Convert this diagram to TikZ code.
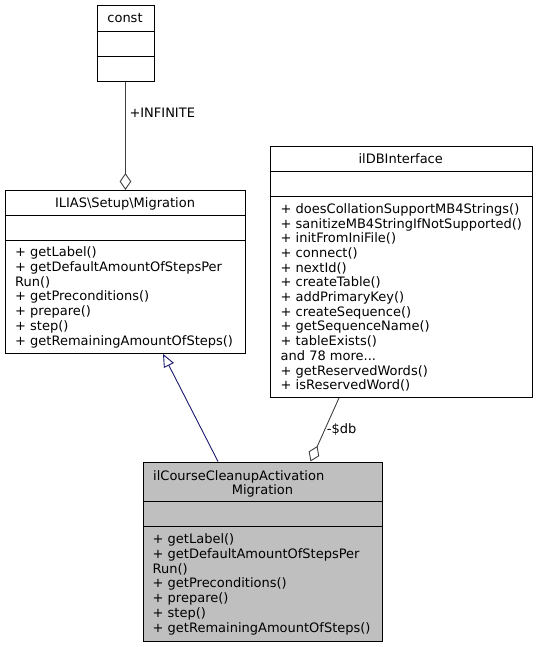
\documentclass[tikz,border=0pt]{standalone}
\usepackage{fontspec}
\setmainfont{DejaVu Sans}
\usetikzlibrary{arrows.meta}
\definecolor{edgegray}{HTML}{404040}
\definecolor{inhblue}{HTML}{191970}
\definecolor{boxgray}{HTML}{BFBFBF}
\begin{document}
\begin{tikzpicture}[x=1pt,y=-1pt,
  classbox/.style={draw=black, line width=0.9pt, inner sep=0pt, anchor=north west},
  txt/.style={inner sep=0pt, anchor=base west, font=\fontsize{13}{14.7}\selectfont},
  ctxt/.style={inner sep=0pt, anchor=base, font=\fontsize{13}{14.7}\selectfont},
  divider/.style={draw=black, line width=0.9pt},
  aggr/.style={draw=edgegray, line width=0.9pt, -{Diamond[open, length=17pt, width=11.5pt, line width=0.9pt]}},
  inherit/.style={draw=inhblue, line width=0.9pt, -{Triangle[open, length=13pt, width=11pt, line width=0.9pt]}}
]
\useasboundingbox (0,0) rectangle (538,647);

% const
\node[classbox, minimum width=57pt, minimum height=76pt] (cst) at (96.5,5.5) {};
\draw[divider] (cst.west |- 0,31.5) -- (cst.east |- 0,31.5);
\draw[divider] (cst.west |- 0,56.5) -- (cst.east |- 0,56.5);
\node[ctxt] (cstT) at (125,23) {const};

% ILIAS\Setup\Migration
\node[classbox, minimum width=240pt, minimum height=163pt] (mig) at (5,190) {};
\draw[divider] (mig.west |- 0,215) -- (mig.east |- 0,215);
\draw[divider] (mig.west |- 0,240) -- (mig.east |- 0,240);
\node[ctxt] (migT) at (125,207) {ILIAS\textbackslash Setup\textbackslash Migration};
\foreach \t [count=\i from 0] in {{+ getLabel()}, {+ getDefaultAmountOfStepsPer}, {Run()}, {+ getPreconditions()}, {+ prepare()}, {+ step()}, {+ getRemainingAmountOfSteps()}}
  \node[txt] (migL\i) at (15,256.8+\i*14.7) {\t};

% ilDBInterface
\node[classbox, minimum width=262.5pt, minimum height=250.5pt] (db) at (269.5,146.5) {};
\draw[divider] (db.west |- 0,171.5) -- (db.east |- 0,171.5);
\draw[divider] (db.west |- 0,196.5) -- (db.east |- 0,196.5);
\node[ctxt] (dbT) at (400.7,163.5) {ilDBInterface};
\foreach \t [count=\i from 0] in {{+ doesCollationSupportMB4Strings()}, {+ sanitizeMB4StringIfNotSupported()}, {+ initFromIniFile()}, {+ connect()}, {+ nextId()}, {+ createTable()}, {+ addPrimaryKey()}, {+ createSequence()}, {+ getSequenceName()}, {+ tableExists()}, {and 78 more\char"2E\char"2E\char"2E}, {+ getReservedWords()}, {+ isReservedWord()}}
  \node[txt] (dbL\i) at (280.5,213.3+\i*14.7) {\t};

% ilCourseCleanupActivationMigration
\node[classbox, fill=boxgray, minimum width=239.5pt, minimum height=179.5pt] (ilc) at (142.5,461.5) {};
\draw[divider] (ilc.west |- 0,501.5) -- (ilc.east |- 0,501.5);
\draw[divider] (ilc.west |- 0,526.5) -- (ilc.east |- 0,526.5);
\node[txt] (ilcT1) at (153,480) {ilCourseCleanupActivation};
\node[ctxt] (ilcT2) at (262.5,494.5) {Migration};
\foreach \t [count=\i from 0] in {{+ getLabel()}, {+ getDefaultAmountOfStepsPer}, {Run()}, {+ getPreconditions()}, {+ prepare()}, {+ step()}, {+ getRemainingAmountOfSteps()}}
  \node[txt] (ilcL\i) at (152.5,543.8+\i*14.7) {\t};

% connectors
\draw[aggr] (cst.south) -- (mig.north);
\node[txt] (lblInf) at (129.3,117.2) {+INFINITE};

\draw[inherit] ([xshift=75.5pt]ilc.north west) -- ([xshift=158pt]mig.south west);

\draw[aggr] ([xshift=69.5pt]db.south west) -- ([xshift=168pt]ilc.north west);
\node[txt] (lblDb) at (326.7,433.8) {-\$db};
\end{tikzpicture}
\end{document}
